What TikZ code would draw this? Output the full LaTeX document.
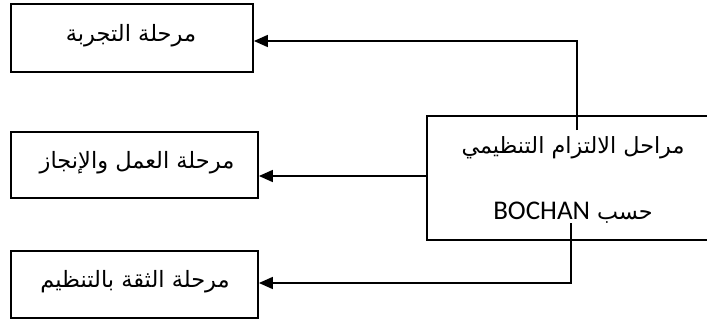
\documentclass[tikz,border=0pt]{standalone}
\usepackage{fontspec}
\setmainfont{Liberation Sans}
\newfontfamily\arabicfont[Script=Arabic]{DejaVu Sans}
\newfontfamily\latinb{Carlito}
\TeXXeTstate=1
\usetikzlibrary{arrows.meta}
\begin{document}
\begin{tikzpicture}[x=1pt,y=1pt,
  stage/.style={draw=black,line width=1.8pt,rectangle,inner sep=0pt},
  lbl/.style={inner sep=0pt,font=\arabicfont\fontsize{22.5}{26}\selectfont},
  big/.style={inner sep=0pt,font=\arabicfont\fontsize{22.3}{26}\selectfont},
  conn/.style={line width=1.6pt,-{Triangle[length=14pt,width=12pt]}}]
\useasboundingbox (0,0) rectangle (707,325);
\begin{scope}
\clip (0,0) rectangle (707,325);
\draw[line width=1.5pt] (427,85) rectangle (730,209);
\end{scope}
\coordinate (mainW) at (427,149);
\coordinate (mainTop) at (577,195);
\coordinate (mainBot) at (571,102);
\node[stage,minimum width=242pt,minimum height=68pt] (b1) at (132,287) {};
\node[stage,minimum width=247pt,minimum height=66pt] (b2) at (134.5,160) {};
\node[stage,minimum width=247pt,minimum height=67pt] (b3) at (134.5,40.5) {};
\node[lbl] (t1) at (131,289) {\beginR مرحلة التجربة\endR};
\node[lbl] (t2) at (137,162) {\beginR مرحلة العمل والإنجاز\endR};
\node[lbl] (t3) at (135,43) {\beginR مرحلة الثقة بالتنظيم\endR};
\node[big] (m1) at (573,177) {\beginR مراحل الالتزام التنظيمي\endR};
\node[big] (m2) at (573,112) {\beginR حسب \beginL{\latinb\fontsize{27}{30}\selectfont BOCHAN}\endL\endR};
\draw[conn] (mainTop) |- (b1.east |- 0,284);
\draw[conn] (mainW) -- (b2.east |- mainW);
\draw[conn] (mainBot) |- (b3.east |- 0,42);
\end{tikzpicture}
\end{document}
